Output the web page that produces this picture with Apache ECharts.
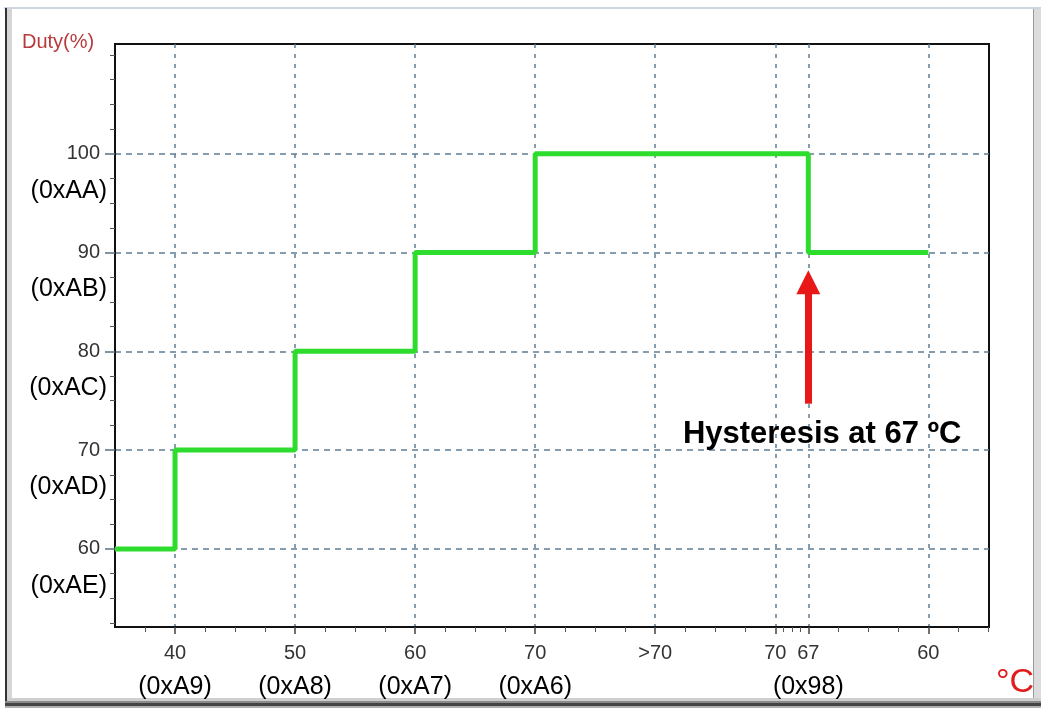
<!DOCTYPE html>
<html><head><meta charset="utf-8">
<script src="https://cdn.jsdelivr.net/npm/echarts@6/dist/echarts.min.js"></script>
<style>html,body{margin:0;padding:0;background:#fff}#c{width:1041px;height:708px}</style>
</head><body><div id="c"></div>
<script>
// ---- data ----
const xTickLabels = ['40', '50', '60', '70', '>70', '70', '67', '60'];
const xTickHex = ['(0xA9)', '(0xA8)', '(0xA7)', '(0xA6)', '', '', '(0x98)', ''];
const xTickPos = [1, 2, 3, 4, 5, 6, 6.275, 7.275];   // column position of each temperature label
const yTickValues = [60, 70, 80, 90, 100];
const yTickHex = ['(0xAE)', '(0xAD)', '(0xAC)', '(0xAB)', '(0xAA)'];
const stepX = [0.5, 1, 2, 3, 4, 6.275, 7.275];
const stepDuty = [60, 70, 80, 90, 100, 90, 90];
const hysteresisX = 6.275;
const arrowFromDuty = 74.7;
const arrowToDuty = 87.0;
const annotationText = 'Hysteresis at 67 ºC';
const annotationPos = [6.39, 71.6];
const yTitle = 'Duty(%)';
const xUnit = '°C';

// ---- axis ranges ----
const xMin = 0.5, xMax = 7.78;
const yMin = 52.1, yMax = 111.1;

const FONT = "'Liberation Sans', Arial, sans-serif";

// minor ticks: quarter subdivisions between labelled columns
const minorX = [];
for (let i = 0; i < xTickPos.length - 1; i++) {
  const a = xTickPos[i], b = xTickPos[i + 1];
  for (let k = 1; k < 4; k++) minorX.push(a + (b - a) * k / 4);
}
for (let v = xTickPos[0] - 0.25; v > xMin; v -= 0.25) minorX.push(v);
for (let v = xTickPos[xTickPos.length - 1] + 0.25; v < xMax; v += 0.25) minorX.push(v);
const minorY = [];
for (let v = 52.5; v < yMax; v += 2.5) if (yTickValues.indexOf(v) < 0) minorY.push(v);

function nearestIdx(arr, v) {
  let best = 0;
  for (let i = 1; i < arr.length; i++) if (Math.abs(arr[i] - v) < Math.abs(arr[best] - v)) best = i;
  return best;
}

const chart = echarts.init(document.getElementById('c'), null, { renderer: 'canvas' });
chart.setOption({
  animation: false,
  backgroundColor: '#fff',
  textStyle: { fontFamily: FONT },
  grid: { left: 115, right: 52, top: 44, bottom: 81, show: true, borderColor: '#111', borderWidth: 2, backgroundColor: '#fff' },
  xAxis: [
    {
      type: 'value', min: xMin, max: xMax, position: 'bottom',
      axisLine: { show: true, lineStyle: { color: '#111', width: 2 } },
      axisTick: { show: true, customValues: xTickPos, length: 7, lineStyle: { color: '#444', width: 1.5 } },
      axisLabel: {
        customValues: xTickPos, margin: 12,
        formatter: function (v) {
          const i = nearestIdx(xTickPos, v);
          return xTickHex[i] ? '{a|' + xTickLabels[i] + '}\n{b|' + xTickHex[i] + '}' : '{a|' + xTickLabels[i] + '}';
        },
        rich: {
          a: { fontFamily: FONT, fontSize: 20, color: '#333', lineHeight: 28 },
          b: { fontFamily: FONT, fontSize: 25, color: '#000', lineHeight: 40 }
        }
      },
      splitLine: { show: true, lineStyle: { color: '#5f7d96', type: [4, 6], width: 1.5 } }
    },
    {
      type: 'value', min: xMin, max: xMax, position: 'bottom',
      axisLine: { show: false },
      axisTick: { show: true, customValues: minorX, length: 5, lineStyle: { color: '#555', width: 1 } },
      axisLabel: { show: false },
      splitLine: { show: false }
    }
  ],
  yAxis: [
    {
      type: 'value', min: yMin, max: yMax, position: 'left',
      axisLine: { show: true, lineStyle: { color: '#111', width: 2 } },
      axisTick: { show: true, customValues: yTickValues, length: 10, lineStyle: { color: '#5a7080', width: 1.5 } },
      axisLabel: {
        customValues: yTickValues, margin: 8, padding: [37, 0, 0, 0],
        formatter: function (v) {
          const i = nearestIdx(yTickValues, v);
          return '{a|' + yTickValues[i] + '}\n{b|' + yTickHex[i] + '}';
        },
        rich: {
          a: { fontFamily: FONT, fontSize: 20, color: '#333', lineHeight: 37, padding: [0, 7, 0, 0] },
          b: { fontFamily: FONT, fontSize: 25, color: '#000', lineHeight: 37 }
        }
      },
      splitLine: { show: true, lineStyle: { color: '#5f7d96', type: [6, 5], width: 1.5 } }
    },
    {
      type: 'value', min: yMin, max: yMax, position: 'left',
      axisLine: { show: false },
      axisTick: { show: true, customValues: minorY, length: 5, lineStyle: { color: '#555', width: 1 } },
      axisLabel: { show: false },
      splitLine: { show: false }
    }
  ],
  series: [
    {
      type: 'line', xAxisIndex: 0, yAxisIndex: 0, step: 'end', symbol: 'none', z: 3,
      data: stepX.map((x, i) => [x, stepDuty[i]]),
      lineStyle: { color: '#2edc2e', width: 5 }
    },
    {
      type: 'line', xAxisIndex: 0, yAxisIndex: 0, data: [], z: 4,
      markLine: {
        silent: true, symbol: ['none', 'triangle'], symbolSize: 24,
        label: { show: false },
        lineStyle: { color: '#e81818', width: 7, type: 'solid' },
        data: [[{ coord: [hysteresisX, arrowFromDuty] }, { coord: [hysteresisX, arrowToDuty] }]]
      },
      markPoint: {
        silent: true, symbol: 'circle', symbolSize: 0,
        itemStyle: { color: 'transparent' },
        label: { show: true, position: 'inside', formatter: annotationText, fontFamily: FONT, fontSize: 31, fontWeight: 'bold', color: '#000' },
        data: [{ coord: annotationPos }]
      }
    }
  ],
  graphic: [
    { type: 'rect', shape: { x: 4, y: 7, width: 1037, height: 2 }, style: { fill: '#cdd6e0' }, silent: true },
    { type: 'rect', shape: { x: 5, y: 8, width: 2, height: 700 }, style: { fill: '#333' }, silent: true },
    { type: 'rect', shape: { x: 7, y: 9, width: 5, height: 692 }, style: { fill: '#d6d6d6' }, silent: true },
    { type: 'rect', shape: { x: 1033, y: 9, width: 1, height: 692 }, style: { fill: '#9a9a9a' }, silent: true },
    { type: 'rect', shape: { x: 1034, y: 9, width: 7, height: 692 }, style: { fill: '#dcdcdc' }, silent: true },
    { type: 'rect', shape: { x: 7, y: 698, width: 1034, height: 3 }, style: { fill: '#cfcfcf' }, silent: true },
    { type: 'rect', shape: { x: 5, y: 701, width: 1036, height: 2 }, style: { fill: '#8a8a8a' }, silent: true },
    { type: 'rect', shape: { x: 5, y: 703, width: 1036, height: 3 }, style: { fill: '#444' }, silent: true },
    { type: 'rect', shape: { x: 5, y: 706, width: 1036, height: 2 }, style: { fill: '#b0b0b0' }, silent: true },
    { type: 'text', left: 22, top: 32, style: { text: yTitle, fontFamily: FONT, fontSize: 20, fill: '#b83a3a' }, silent: true },
    { type: 'text', left: 996, top: 666, style: { text: xUnit, fontFamily: FONT, fontSize: 34, fill: '#e01c1c' }, silent: true }
  ]
});
</script>
</body></html>
